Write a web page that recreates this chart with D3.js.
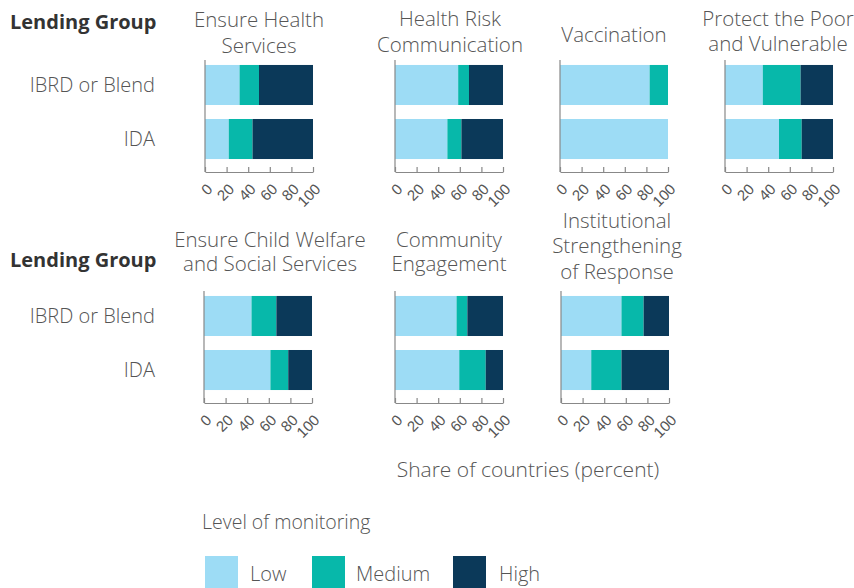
<!DOCTYPE html>
<html><head><meta charset="utf-8">
<script src="https://cdn.jsdelivr.net/npm/d3@7"></script>
<style>
body{margin:0;background:#fff;}
svg{font-family:"Open Sans","Lato",sans-serif;}
</style></head>
<body><svg id="c" width="854" height="588"></svg>
<script>
const categories = ["IBRD or Blend", "IDA"];
const panelTitles = [
  ["Ensure Health", "Services"],
  ["Health Risk", "Communication"],
  ["Vaccination"],
  ["Protect the Poor", "and Vulnerable"],
  ["Ensure Child Welfare", "and Social Services"],
  ["Community", "Engagement"],
  ["Institutional", "Strengthening", "of Response"]
];
const levels = ["Low", "Medium", "High"];
// per panel: [IBRD or Blend, IDA]
const lowShare    = [[32, 22], [58.5, 48.5], [83, 100], [35, 50], [44, 61.5], [57, 59.5], [56, 28]];
const mediumShare = [[18, 22], [10, 13],     [17, 0],   [35, 21], [23, 16.5], [10, 24.5], [20.5, 28]];
const highShare   = [[50, 56], [31.5, 38.5], [0, 0],    [30, 29], [33, 22],   [33, 16],   [23.5, 44]];
const xTicks = [0, 20, 40, 60, 80, 100];

const colors = {Low: "#9ddcf5", Medium: "#07b8aa", High: "#0b3959"};
const textCol = "#555";

const svg = d3.select("#c");

// layout
const panelX = [205, 395, 560, 725, 204, 395, 561];
const rowOffset = [0, 0, 0, 0, 231, 231, 231];
const titleCx = [259, 450, 614, 778, 270, 449, 617];
const titleY0 = [[20, 46], [19, 45], [35], [19, 44], [240, 264], [240, 264], [221, 246, 272]];
const pw = 108;

const color = d3.scaleOrdinal().domain(levels).range(levels.map(l => colors[l]));

panelTitles.forEach((title, i) => {
  const g = svg.append("g");
  const x = d3.scaleLinear().domain([0, 100]).range([panelX[i], panelX[i] + pw]);
  const y = d3.scaleBand().domain(categories)
    .range([52 + rowOffset[i], 172 + rowOffset[i]])
    .paddingInner(0.259).paddingOuter(0.24);
  const rows = categories.map((c, j) => ({cat: c, Low: lowShare[i][j], Medium: mediumShare[i][j], High: highShare[i][j]}));
  const series = d3.stack().keys(levels)(rows);
  g.selectAll("g.s").data(series).join("g").attr("fill", d => color(d.key))
    .selectAll("rect").data(d => d).join("rect")
    .attr("x", d => x(d[0])).attr("width", d => Math.max(0, x(d[1]) - x(d[0])))
    .attr("y", d => y(d.data.cat)).attr("height", y.bandwidth());

  const axisY = 172 + rowOffset[i];
  const ax = g.append("g").attr("transform", `translate(0,${axisY})`)
    .call(d3.axisBottom(x).tickValues(xTicks).tickSize(-5).tickSizeOuter(0));
  ax.select(".domain").attr("stroke", "#888").attr("stroke-width", 1.2);
  ax.selectAll(".tick line").attr("stroke", "#888").attr("stroke-width", 1.2);
  ax.selectAll(".tick text")
    .attr("fill", textCol).attr("font-size", 15).attr("font-weight", 300)
    .attr("text-anchor", "end").attr("y", 0).attr("dy", 0)
    .attr("transform", "translate(8,18) rotate(-45)");
  // vertical axis line
  g.append("line").attr("x1", panelX[i]).attr("x2", panelX[i])
    .attr("y1", 60 + rowOffset[i]).attr("y2", axisY)
    .attr("stroke", "#888").attr("stroke-width", 1.2);

  const tt = g.append("text").attr("text-anchor", "middle").attr("fill", textCol)
    .attr("font-size", 20.5).attr("font-weight", 300);
  title.forEach((t, k) => {
    tt.append("tspan").attr("x", titleCx[i]).attr("y", titleY0[i][k]).attr("dy", "0.35em").text(t);
  });

  if (i === 0 || i === 4) {
    categories.forEach(c => {
      g.append("text").attr("x", 155).attr("y", y(c) + y.bandwidth() / 2).attr("dy", "0.35em")
        .attr("text-anchor", "end").attr("fill", textCol).attr("font-size", 20).attr("font-weight", 300)
        .text(c);
    });
  }
});

// Lending Group headers
[22, 260].forEach(yy => {
  svg.append("text").attr("x", 10).attr("y", yy).attr("dy", "0.35em")
    .attr("fill", "#333").attr("font-size", 20).attr("font-weight", 700).text("Lending Group");
});

svg.append("text").attr("x", 528).attr("y", 470).attr("dy", "0.35em").attr("text-anchor", "middle")
  .attr("fill", textCol).attr("font-size", 21).attr("font-weight", 300).text("Share of countries (percent)");

// legend
svg.append("text").attr("x", 202).attr("y", 522).attr("dy", "0.35em")
  .attr("fill", textCol).attr("font-size", 19.5).attr("font-weight", 300).text("Level of monitoring");
const legX = [205, 312, 453];
const legLab = [250, 356, 499];
levels.forEach((l, k) => {
  svg.append("rect").attr("x", legX[k]).attr("y", 556).attr("width", 33).attr("height", 33).attr("fill", color(l));
  svg.append("text").attr("x", legLab[k]).attr("y", 574).attr("dy", "0.35em")
    .attr("fill", textCol).attr("font-size", 20).attr("font-weight", 300).text(l);
});
</script></body></html>
